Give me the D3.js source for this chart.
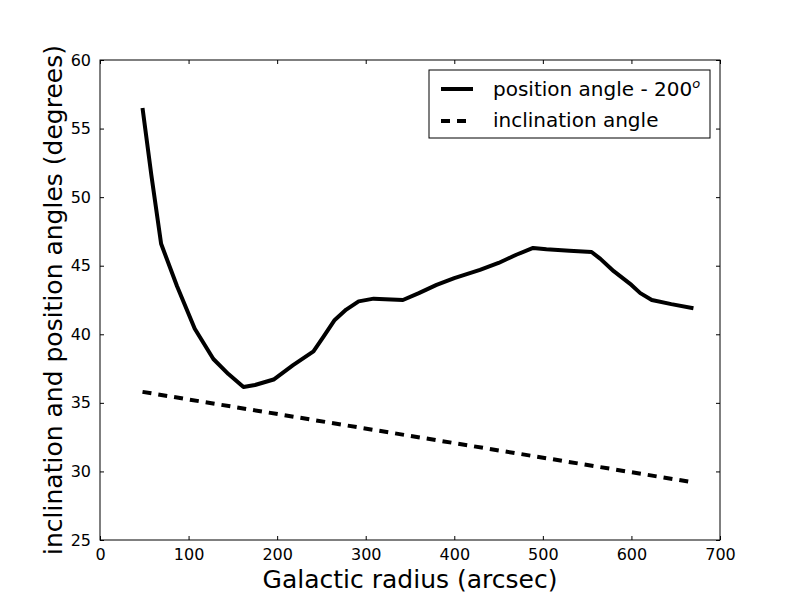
<!DOCTYPE html>
<html lang="en">
  <head>
    <meta charset="utf-8">
    <title>Position and inclination angles</title>
    <script src="https://d3js.org/d3.v7.js"></script>
    <style>
      body { margin: 0; background: white; overflow: hidden; }
      * { font-family: "DejaVu Sans", sans-serif; }
    </style>
  </head>
  <body>
    <script type="text/javascript">
      // position angle - 200 (solid)
      var paRadius = [48, 58, 69, 87, 107, 128, 145, 162, 175, 196, 218, 241, 252, 265, 278, 292, 309, 322, 342, 360, 380, 400, 429, 450, 470, 489, 504, 530, 555, 565, 580, 600, 610, 623, 645, 670];
      var paAngle  = [56.5, 51.6, 46.6, 43.5, 40.4, 38.2, 37.1, 36.15, 36.3, 36.7, 37.75, 38.75, 39.8, 41.05, 41.8, 42.4, 42.6, 42.55, 42.5, 43.0, 43.6, 44.1, 44.7, 45.2, 45.8, 46.3, 46.2, 46.1, 46.0, 45.5, 44.6, 43.6, 43.0, 42.5, 42.2, 41.9];

      // inclination angle (dashed)
      var incRadius = [48, 670];
      var incAngle  = [35.8, 29.2];

      var xTicks = [0, 100, 200, 300, 400, 500, 600, 700];
      var yTicks = [25, 30, 35, 40, 45, 50, 55, 60];

      var w = 800, h = 600;
      var margin = {top: 60, right: 80, bottom: 60, left: 100};
      var innerWidth = w - margin.left - margin.right;
      var innerHeight = h - margin.top - margin.bottom;

      var xScale = d3.scaleLinear().domain([0, 700]).range([0, innerWidth]);
      var yScale = d3.scaleLinear().domain([25, 60]).range([innerHeight, 0]);

      var svg = d3.select("body").append("svg")
          .attr("width", w)
          .attr("height", h)
          .style("display", "block");

      svg.append("rect").attr("width", w).attr("height", h).attr("fill", "white");

      var g = svg.append("g")
          .attr("transform", `translate(${margin.left},${margin.top})`);

      // axes with inward ticks on all sides
      var axisBottom = d3.axisBottom(xScale).tickValues(xTicks).tickSizeInner(-4).tickSizeOuter(0).tickPadding(9);
      var axisTop = d3.axisTop(xScale).tickValues(xTicks).tickSizeInner(-4).tickSizeOuter(0);
      var axisLeft = d3.axisLeft(yScale).tickValues(yTicks).tickSizeInner(-4).tickSizeOuter(0).tickPadding(9);
      var axisRight = d3.axisRight(yScale).tickValues(yTicks).tickSizeInner(-4).tickSizeOuter(0);

      function styleAxis(sel) {
        sel.selectAll("path").remove();
        sel.selectAll("line").attr("stroke", "black").attr("stroke-width", 1);
        sel.selectAll("text").attr("font-size", 16).attr("fill", "black")
           .attr("font-family", "DejaVu Sans");
      }
      function noLabels(sel) {
        sel.selectAll("text").remove();
      }

      g.append("g").attr("transform", `translate(0,${innerHeight})`).call(axisBottom).call(styleAxis);
      g.append("g").call(axisTop).call(styleAxis).call(noLabels);
      g.append("g").call(axisLeft).call(styleAxis);
      g.append("g").attr("transform", `translate(${innerWidth},0)`).call(axisRight).call(styleAxis).call(noLabels);

      // lines
      var line = d3.line()
          .x(d => xScale(d[0]))
          .y(d => yScale(d[1]));

      var paData = paRadius.map((r, i) => [r, paAngle[i]]);
      var incData = incRadius.map((r, i) => [r, incAngle[i]]);

      g.append("path")
          .datum(paData)
          .attr("d", line)
          .attr("fill", "none")
          .attr("stroke", "black")
          .attr("stroke-width", 4)
          .attr("stroke-linejoin", "round");

      g.append("path")
          .datum(incData)
          .attr("d", line)
          .attr("fill", "none")
          .attr("stroke", "black")
          .attr("stroke-width", 4)
          .attr("stroke-dasharray", "9,7");

      // frame
      g.append("rect")
          .attr("width", innerWidth)
          .attr("height", innerHeight)
          .attr("fill", "none")
          .attr("stroke", "black")
          .attr("stroke-width", 1);

      // legend
      var legend = g.append("g").attr("transform", `translate(${429 - margin.left},${70 - margin.top})`);
      legend.append("rect")
          .attr("width", 281)
          .attr("height", 68)
          .attr("fill", "white")
          .attr("stroke", "black")
          .attr("stroke-width", 1);

      legend.append("line")
          .attr("x1", 12).attr("x2", 44).attr("y1", 19).attr("y2", 19)
          .attr("stroke", "black").attr("stroke-width", 4);
      legend.append("line")
          .attr("x1", 12).attr("x2", 44).attr("y1", 51).attr("y2", 51)
          .attr("stroke", "black").attr("stroke-width", 4)
          .attr("stroke-dasharray", "9,7");

      var t1 = legend.append("text")
          .attr("x", 64).attr("y", 26)
          .attr("font-size", 20)
          .text("position angle - 200");
      t1.append("tspan")
          .attr("dy", -8)
          .attr("font-size", 13)
          .attr("font-style", "italic")
          .text("o");

      legend.append("text")
          .attr("x", 64).attr("y", 57)
          .attr("font-size", 20)
          .text("inclination angle");

      // axis labels
      svg.append("text")
          .attr("x", margin.left + innerWidth / 2)
          .attr("y", 588)
          .attr("text-anchor", "middle")
          .attr("font-size", 25)
          .text("Galactic radius (arcsec)");

      svg.append("text")
          .attr("transform", `translate(62,${margin.top + innerHeight / 2}) rotate(-90)`)
          .attr("text-anchor", "middle")
          .attr("font-size", 25)
          .text("inclination and position angles (degrees)");
    </script>
  </body>
</html>
